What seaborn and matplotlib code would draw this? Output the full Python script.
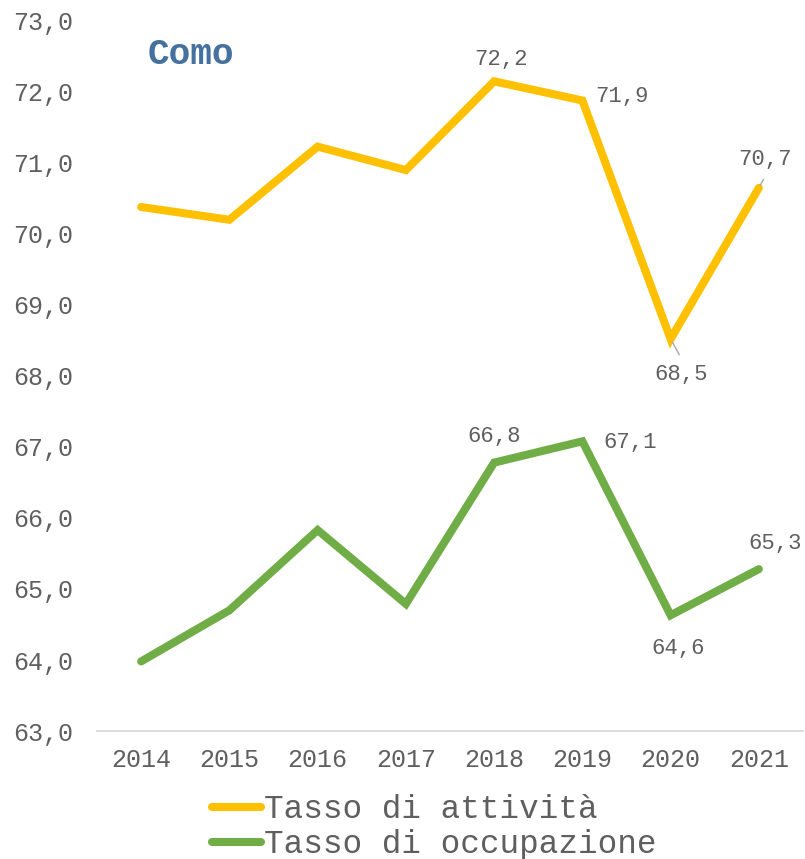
import seaborn as sns
import matplotlib.pyplot as plt
import pandas as pd

# Tassi per la provincia di Como
years = ["2014", "2015", "2016", "2017", "2018", "2019", "2020", "2021"]
attivita = [70.38, 70.2, 71.23, 70.9, 72.15, 71.88, 68.52, 70.65]
occupazione = [63.98, 64.7, 65.83, 64.79, 66.78, 67.08, 64.63, 65.28]

name_att = "Tasso di attività"
name_occ = "Tasso di occupazione"

df = pd.DataFrame({
    "pos": list(range(len(years))) * 2,
    "valore": attivita + occupazione,
    "serie": [name_att] * len(years) + [name_occ] * len(years),
})

sns.set_style("white")
plt.rcParams["font.family"] = ["Liberation Mono", "DejaVu Sans Mono"]
grey = "#5f5f5f"

fig = plt.figure(figsize=(8.05, 8.59), dpi=100)
ax = fig.add_axes([0.1205, 0.149, 0.877, 0.8266])

colors = {name_att: "#FFC000", name_occ: "#70AD47"}
sns.lineplot(data=df, x="pos", y="valore", hue="serie", palette=colors,
             linewidth=5.8, ax=ax, solid_capstyle="round", solid_joinstyle="miter")

ax.set_xlim(-0.5, len(years) - 0.5)
ax.set_ylim(63, 73)
ax.set_yticks(range(63, 74))
ax.set_yticklabels([f"{v},0" for v in range(63, 74)], fontsize=18, color=grey)
ax.set_xticks(range(len(years)))
ax.set_xticklabels(years, fontsize=18, color=grey)
ax.set_xticks([i - 0.5 for i in range(len(years) + 1)], minor=True)
ax.tick_params(axis="x", which="major", length=0, pad=12)
ax.tick_params(axis="x", which="minor", length=7, color="#D9D9D9", width=1.3)
ax.tick_params(axis="y", length=0, pad=17)
ax.set_xlabel("")
ax.set_ylabel("")
for s in ["top", "right", "left"]:
    ax.spines[s].set_visible(False)
ax.spines["bottom"].set_color("#D9D9D9")
ax.spines["bottom"].set_linewidth(1.3)

# etichette dei valori (offset in punti)
px = 0.72
lab_att = {4: (7, 22), 5: (40, 4), 6: (11, -35), 7: (6, 28)}
lab_occ = {4: (0, 26), 5: (48, -1), 6: (8, -33), 7: (16, 26)}
for idx, (dx, dy) in lab_att.items():
    v = attivita[idx]
    ax.annotate(f"{v:.1f}".replace(".", ","), (idx, v),
                xytext=(dx * px, dy * px), textcoords="offset points",
                ha="center", va="center", fontsize=16, color=grey)
for idx, (dx, dy) in lab_occ.items():
    v = occupazione[idx]
    ax.annotate(f"{v:.1f}".replace(".", ","), (idx, v),
                xytext=(dx * px, dy * px), textcoords="offset points",
                ha="center", va="center", fontsize=16, color=grey)

# piccole linee guida
ax.annotate("", (6, attivita[6]), xytext=(10 * px, -18 * px), textcoords="offset points",
            arrowprops=dict(arrowstyle="-", color="#A6A6A6", lw=1))
ax.annotate("", (7, attivita[7]), xytext=(6 * px, 11 * px), textcoords="offset points",
            arrowprops=dict(arrowstyle="-", color="#A6A6A6", lw=1))

fig.text(0.183, 0.936, "Como", fontsize=26, fontweight="bold", color="#44719E",
         ha="left", va="center")

handles, labels = ax.get_legend_handles_labels()
ax.get_legend().remove()
leg = fig.legend(handles, labels, loc="center left", bbox_to_anchor=(0.235, 0.037),
                 frameon=False, fontsize=23.5, handlelength=1.5, handletextpad=0.1,
                 labelspacing=0.12, borderpad=0.2)
for t in leg.get_texts():
    t.set_color(grey)

fig.savefig("out.png", dpi=100)
